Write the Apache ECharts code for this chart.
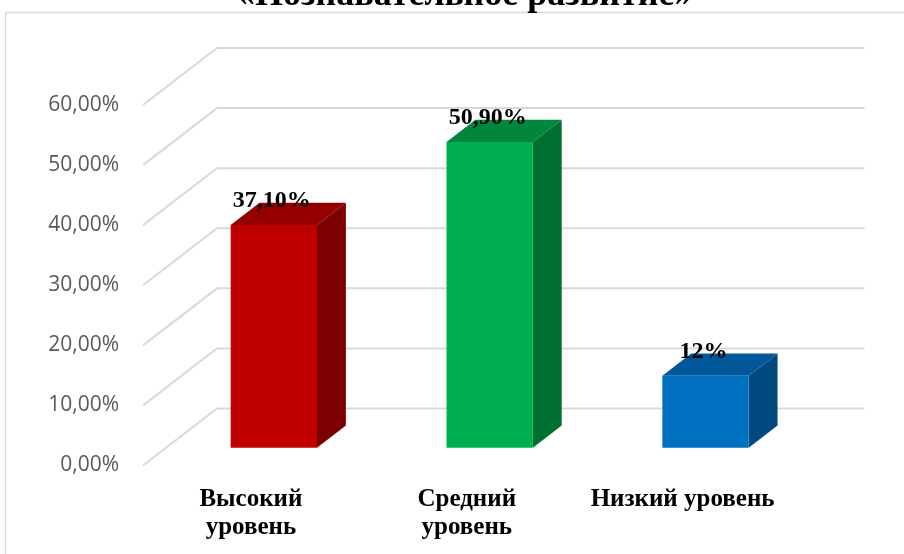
<!DOCTYPE html>
<html>
<head>
<meta charset="utf-8">
<script src="https://cdn.jsdelivr.net/npm/echarts@6/dist/echarts.min.js"></script>
<style>
  html, body { margin: 0; padding: 0; background: #ffffff; }
  #chart { width: 904px; height: 554px; }
</style>
</head>
<body>
<div id="chart"></div>
<script>
// данные диаграммы
const categories = ['Высокий\nуровень', 'Средний\nуровень', 'Низкий уровень'];
const values = [37.1, 50.9, 12];
const valueLabels = ['37,10%', '50,90%', '12%'];
const yTicks = [0, 10, 20, 30, 40, 50, 60];

// цвета граней: лицевая, верх, бок
const faceColors = ['#C00000', '#00B050', '#0070C0'];
const topColors = ['#940000', '#00873D', '#00589A'];
const sideColors = ['#7C0000', '#007030', '#004A80'];

// глубина стенки (псевдо-3D)
const DX = 74, DY = 57;
const F0 = 0.31, F1 = 0.70;
const GRID_COLOR = '#d9d9d9';

const chart = echarts.init(document.getElementById('chart'));

const option = {
  backgroundColor: '#ffffff',
  animation: false,
  title: {
    text: '«Познавательное развитие»',
    left: 232,
    top: -27,
    textStyle: { fontFamily: 'Liberation Serif', fontWeight: 'bold', fontSize: 36, color: '#000000' }
  },
  graphic: [{
    type: 'rect',
    shape: { x: 5.5, y: 12.5, width: 1000, height: 1000 },
    style: { fill: 'none', stroke: GRID_COLOR, lineWidth: 1.5 },
    silent: true
  }],
  grid: { left: 143, right: 113.5, top: 105, bottom: 88.5 },
  xAxis: {
    type: 'category',
    data: categories,
    axisLine: { show: false },
    axisTick: { show: false },
    axisLabel: {
      interval: 0,
      margin: 20,
      fontFamily: 'Liberation Serif',
      fontWeight: 'bold',
      fontSize: 25,
      lineHeight: 28,
      color: '#000000'
    }
  },
  yAxis: {
    type: 'value',
    min: 0,
    max: 60,
    interval: 10,
    axisLine: { show: false },
    axisTick: { show: false },
    splitLine: { show: false },
    axisLabel: {
      margin: 24,
      fontFamily: 'Open Sans',
      fontSize: 21,
      color: '#595959',
      formatter: v => v.toFixed(2).replace('.', ',') + '%'
    }
  },
  series: [
    {
      // боковая и задняя стенки
      type: 'custom',
      silent: true,
      data: yTicks.map(t => [0, t]),
      renderItem: function (params, api) {
        const cs = params.coordSys;
        const y = api.coord([0, api.value(1)])[1];
        return {
          type: 'polyline',
          shape: { points: [[cs.x, y], [cs.x + DX, y - DY], [cs.x + cs.width + DX, y - DY]] },
          style: { fill: null, stroke: GRID_COLOR, lineWidth: 2 }
        };
      },
      z: 1
    },
    {
      // объёмные столбцы
      type: 'custom',
      data: values.map((v, i) => [i, v]),
      renderItem: function (params, api) {
        const i = params.dataIndex;
        const base = api.coord([api.value(0), 0]);
        const top = api.coord([api.value(0), api.value(1)]);
        const w = api.size([1, 0])[0] * 0.4;
        const x0 = base[0] - w / 2 + DX * F0;
        const x1 = x0 + w;
        const yb = base[1] - DY * F0;
        const yt = top[1] - DY * F0;
        const dx = DX * (F1 - F0), dy = DY * (F1 - F0);
        return {
          type: 'group',
          children: [
            {
              type: 'polygon',
              shape: { points: [[x1, yb], [x1 + dx, yb - dy], [x1 + dx, yt - dy], [x1, yt]] },
              style: { fill: sideColors[i] }
            },
            {
              type: 'polygon',
              shape: { points: [[x0, yt], [x1, yt], [x1 + dx, yt - dy], [x0 + dx, yt - dy]] },
              style: { fill: topColors[i] }
            },
            {
              type: 'rect',
              shape: { x: x0, y: yt, width: w, height: yb - yt },
              style: { fill: faceColors[i] }
            },
            {
              type: 'text',
              x: (x0 + x1) / 2 - 2,
              y: yt - 24,
              style: {
                text: valueLabels[i],
                align: 'center',
                verticalAlign: 'middle',
                fontFamily: 'Liberation Serif',
                fontWeight: 'bold',
                fontSize: 24,
                fill: '#000000'
              }
            }
          ]
        };
      },
      z: 2
    }
  ]
};

chart.setOption(option);
</script>
</body>
</html>
